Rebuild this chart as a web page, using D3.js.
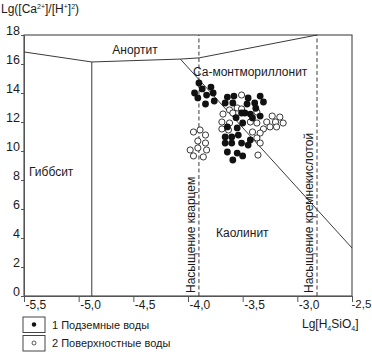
<!DOCTYPE html>
<html>
<head>
<meta charset="utf-8">
<script src="https://cdn.jsdelivr.net/npm/d3@7"></script>
<style>
  body { margin: 0; background: #fff; }
  text { font-family: 'Liberation Sans', Arial, sans-serif; fill: #1a1a1a; }
</style>
</head>
<body>
<div class="canvas"></div>
<script>
// оси
const xTicks = [-5.5, -5.0, -4.5, -4.0, -3.5, -3.0, -2.5];
const yTicks = [0, 2, 4, 6, 8, 10, 12, 14, 16, 18];

// границы полей устойчивости
const gibbsiteAnorthite = [[-5.5, 16.83], [-4.88, 16.14]];
const anorthiteMont = [[-4.88, 16.14], [-4.07, 16.34], [-3.90, 16.42], [-2.82, 18]];
const gibbsiteKaolinite = [[-4.88, 0], [-4.88, 16.14]];
const kaoliniteMont = [[-4.07, 16.34], [-2.5, 3.31]];
const quartzSat = -3.9;
const silicaSat = -2.82;

// 1 Подземные воды
const groundX = [-3.90, -3.87, -3.79, -3.94, -3.83, -3.77, -3.91, -3.84, -3.76,
    -3.64, -3.58, -3.45, -3.34, -3.66, -3.59, -3.46, -3.39, -3.31,
    -3.51, -3.48, -3.43, -3.41, -3.34, -3.50, -3.64, -3.55,
    -3.66, -3.60, -3.54, -3.43, -3.66, -3.60, -3.51, -3.45,
    -3.64, -3.55, -3.50, -3.59, -3.38, -3.56];
const groundY = [14.69, 14.28, 14.41, 14.00, 13.86, 14.00, 13.66, 13.24, 13.45,
    13.72, 13.79, 13.66, 13.79, 13.31, 13.31, 13.24, 13.31, 13.38,
    12.62, 12.62, 12.55, 12.28, 12.41, 11.93, 11.66, 11.59,
    10.97, 10.97, 11.10, 10.76, 10.55, 10.55, 10.55, 10.41,
    9.93, 9.86, 9.66, 9.38, 12.95, 12.30];

// 2 Поверхностные воды
const surfaceX = [-3.51, -3.62, -3.55, -3.51, -3.68, -3.59, -3.37, -3.69, -3.62,
    -3.43, -3.37, -3.28, -3.23, -3.16, -3.20, -3.13, -3.19, -3.25, -3.31,
    -3.69, -3.63, -3.41, -3.34, -3.37, -3.34, -3.36,
    -3.95, -3.89, -3.84, -3.91, -3.84, -3.98, -3.91, -3.83, -3.95, -3.86];
const surfaceY = [13.86, 12.83, 12.97, 12.90, 12.55, 12.62, 12.69, 12.00, 11.93,
    12.00, 11.93, 12.00, 12.41, 12.34, 12.00, 11.93, 11.66, 11.66, 11.52,
    11.52, 11.45, 11.31, 11.24, 10.90, 10.55, 9.72,
    11.31, 11.45, 11.10, 10.69, 10.55, 10.07, 10.21, 10.07, 9.66, 9.59];

const fieldLabels = [
    { text: 'Анортит', x: -4.485, y: 16.69, anchor: 'middle' },
    { text: 'Са-монтмориллонит', x: -3.955, y: 15.17, anchor: 'start' },
    { text: 'Гиббсит', x: -5.454, y: 8.28, anchor: 'start' },
    { text: 'Каолинит', x: -3.744, y: 4.07, anchor: 'start' }
];
const legendItems = ['1 Подземные воды', '2 Поверхностные воды'];

const svg = d3.select('.canvas')
    .append('svg')
    .attr('width', 372)
    .attr('height', 352)

const x = d3.scaleLinear()
    .domain([-5.5, -2.5])
    .range([24, 352]);

const y = d3.scaleLinear()
    .domain([0, 18])
    .range([296, 35]);

const lineColor = '#3a3a3a';
const line = d3.line().x(d => x(d[0])).y(d => y(d[1]));

// рамка
svg.append('rect')
    .attr('x', x(-5.5))
    .attr('y', y(18))
    .attr('width', x(-2.5) - x(-5.5))
    .attr('height', y(0) - y(18))
    .attr('fill', 'none')
    .attr('stroke', '#555')
    .attr('stroke-width', 1.2);

// оси
const xAxis = d3.axisBottom(x)
    .tickValues(xTicks)
    .tickSize(6)
    .tickFormat(d => d3.format('.1f')(d).replace('.', ',').replace('−', '-'));
const xAxisGroup = svg.append('g')
    .attr('transform', `translate(0, ${y(0)})`)
    .call(xAxis);
xAxisGroup.select('.domain').attr('stroke', '#555');
xAxisGroup.selectAll('.tick line').attr('stroke', '#555');
xAxisGroup.selectAll('text')
    .attr('text-anchor', 'start')
    .attr('x', (d, i) => i === xTicks.length - 1 ? -1 : 1)
    .attr('y', 4)
    .attr('font-size', (d, i) => i === xTicks.length - 1 ? '11.5px' : '12px')
    .attr('font-family', "'Liberation Sans', Arial, sans-serif")
    .attr('fill', '#1a1a1a');

const yAxis = d3.axisLeft(y)
    .tickValues(yTicks)
    .tickSize(3);
const yAxisGroup = svg.append('g')
    .attr('transform', `translate(${x(-5.5)}, 0)`)
    .call(yAxis);
yAxisGroup.select('.domain').attr('stroke', '#555');
yAxisGroup.selectAll('.tick line').attr('stroke', '#555');
yAxisGroup.selectAll('text')
    .attr('x', -4)
    .attr('dy', '-0.05em')
    .attr('font-size', '12.5px')
    .attr('font-family', "'Liberation Sans', Arial, sans-serif")
    .attr('fill', '#1a1a1a');

// границы
[gibbsiteAnorthite, anorthiteMont, gibbsiteKaolinite, kaoliniteMont].forEach(pts => {
    svg.append('path')
        .attr('d', line(pts))
        .attr('fill', 'none')
        .attr('stroke', lineColor)
        .attr('stroke-width', 1);
});

[quartzSat, silicaSat].forEach(v => {
    svg.append('line')
        .attr('x1', x(v)).attr('x2', x(v))
        .attr('y1', y(0)).attr('y2', y(18))
        .attr('stroke', lineColor)
        .attr('stroke-width', 1)
        .attr('stroke-dasharray', '4,2.5');
});

// подписи полей
svg.selectAll('text.field')
    .data(fieldLabels)
    .enter()
    .append('text')
    .attr('class', 'field')
    .attr('x', d => x(d.x))
    .attr('y', d => y(d.y))
    .attr('text-anchor', d => d.anchor)
    .attr('font-size', '12px')
    .text(d => d.text);

// вертикальные подписи
[[quartzSat, 'Насыщение кварцем'], [silicaSat, 'Насыщение кремнекислотой']].forEach(([v, t]) => {
    svg.append('text')
        .attr('transform', `translate(${x(v) - 4}, ${y(0) - 3}) rotate(-90)`)
        .attr('font-size', '12px')
        .text(t);
});

// точки
svg.selectAll('circle.surface')
    .data(surfaceX.map((v, i) => [v, surfaceY[i]]))
    .enter()
    .append('circle')
    .attr('class', 'surface')
    .attr('cx', d => x(d[0]))
    .attr('cy', d => y(d[1]))
    .attr('r', 3.1)
    .attr('fill', '#fff')
    .attr('stroke', '#222')
    .attr('stroke-width', 0.9);

svg.selectAll('circle.ground')
    .data(groundX.map((v, i) => [v, groundY[i]]))
    .enter()
    .append('circle')
    .attr('class', 'ground')
    .attr('cx', d => x(d[0]))
    .attr('cy', d => y(d[1]))
    .attr('r', 3.4)
    .attr('fill', '#111');

// заголовки осей
const yTitle = svg.append('text')
    .attr('x', 1)
    .attr('y', 13)
    .attr('font-size', '12px');
yTitle.append('tspan').text('Lg([Ca');
yTitle.append('tspan').attr('dy', -4).attr('font-size', '7px').text('2+');
yTitle.append('tspan').attr('dy', 4).text(']/[H');
yTitle.append('tspan').attr('dy', -4).attr('font-size', '7px').text('+');
yTitle.append('tspan').attr('dy', 4).text(']');
yTitle.append('tspan').attr('dy', -4).attr('font-size', '7px').text('2');
yTitle.append('tspan').attr('dy', 4).text(')');

const xTitle = svg.append('text')
    .attr('x', 302)
    .attr('y', 328)
    .attr('font-size', '12px');
xTitle.append('tspan').text('Lg[H');
xTitle.append('tspan').attr('dy', 3).attr('font-size', '7px').text('4');
xTitle.append('tspan').attr('dy', -3).text('SiO');
xTitle.append('tspan').attr('dy', 3).attr('font-size', '7px').text('4');
xTitle.append('tspan').attr('dy', -3).text(']');

// легенда
const legend = svg.selectAll('g.legend')
    .data(legendItems)
    .enter()
    .append('g')
    .attr('class', 'legend')
    .attr('transform', (d, i) => `translate(23, ${317 + i * 18.5})`);

legend.append('rect')
    .attr('width', 22)
    .attr('height', 15.5)
    .attr('fill', '#fff')
    .attr('stroke', '#444')
    .attr('stroke-width', 1);

legend.append('circle')
    .attr('cx', 11)
    .attr('cy', 7.5)
    .attr('r', (d, i) => i === 0 ? 2.2 : 2)
    .attr('fill', (d, i) => i === 0 ? '#111' : '#fff')
    .attr('stroke', (d, i) => i === 0 ? 'none' : '#333')
    .attr('stroke-width', 0.8);

legend.append('text')
    .attr('x', 29)
    .attr('y', 11.5)
    .attr('font-size', '11px')
    .text(d => d);
</script>
</body>
</html>
